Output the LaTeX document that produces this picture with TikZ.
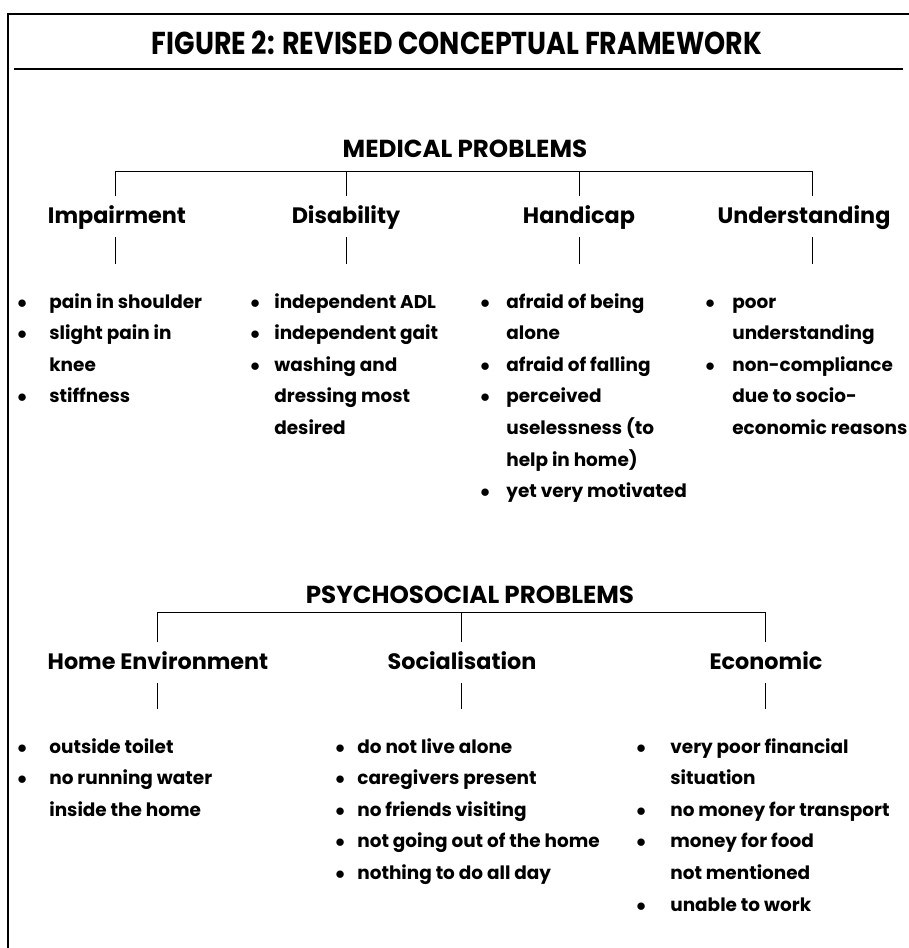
\documentclass[tikz,border=0pt]{standalone}
\usepackage{fontspec}
\setmainfont{Poppins}
\newfontfamily\titlefont{Poppins}[FakeStretch=0.85]
\usetikzlibrary{positioning}
\newcommand{\bulletcol}[2]{\begin{tabular}[t]{@{}p{#1}@{}l@{}}#2\end{tabular}}
\tikzset{
  frameline/.style={line width=1.3pt},
  titlerule/.style={line width=.8pt},
  branch/.style={line width=.55pt},
  tick/.style={line width=.55pt,shorten >=.44cm},
  figtitle/.style={anchor=base,inner sep=0pt,font=\titlefont\bfseries\fontsize{18}{20}\selectfont},
  grouphead/.style={anchor=base,inner sep=0pt,font=\bfseries\fontsize{14}{16}\selectfont},
  category/.style={anchor=base,inner xsep=0pt,inner ysep=5pt,text height=10pt,text depth=3pt,font=\bfseries\fontsize{12.7}{15}\selectfont},
  itemlist/.style={anchor=base west,inner sep=0pt,align=left,font=\bfseries\fontsize{10.5}{18}\selectfont},
}

\begin{document}
\begin{tikzpicture}[x=0.02cm,y=-0.02cm]
			\useasboundingbox (0,0) rectangle (909,948);
			\coordinate (tl) at (8,14);
			\coordinate (bl) at (8,948);
			\coordinate (tr) at (909,14);
			\draw[frameline] (bl)--(tl)--(tr);
			\node[figtitle] (title) at (457,54) {FIGURE 2: REVISED CONCEPTUAL FRAMEWORK};
			\draw[titlerule] (14,69)--(903,69);
			\node[grouphead] (med) at (465,157) {MEDICAL PROBLEMS};
			\coordinate (m1) at (115,171);
			\coordinate (m2) at (346,171);
			\coordinate (m3) at (579,171);
			\coordinate (m4) at (812,171);
			\node[category] (imp) at (117,223) {Impairment};
			\node[category] (dis) at (346,223) {Disability};
			\node[category] (han) at (579,223) {Handicap};
			\node[category] (und) at (804,223) {Understanding};
			\node[itemlist] (implist) at (17,308) {\bulletcol{.64cm}{$\bullet$ & pain in shoulder\\ $\bullet$ & slight pain in\\ & knee\\ $\bullet$ & stiffness}};
			\node[itemlist] (dislist) at (250,308) {\bulletcol{.48cm}{$\bullet$ & independent ADL\\ $\bullet$ & independent gait\\ $\bullet$ & washing and\\ & dressing most\\ & desired}};
			\node[itemlist] (hanlist) at (480,308) {\bulletcol{.52cm}{$\bullet$ & afraid of being\\ & alone\\ $\bullet$ & afraid of falling\\ $\bullet$ & perceived\\ & uselessness (to\\ & help in home)\\ $\bullet$ & yet very motivated}};
			\node[itemlist] (undlist) at (705,308) {\bulletcol{.54cm}{$\bullet$ & poor\\ & understanding\\ $\bullet$ & non-compliance\\ & due to socio-\\ & economic reasons}};
			\draw[branch] (m1 |- imp.north)--(m1)--(m4)--(m4 |- und.north);
			\draw[branch] (m2)--(m2 |- dis.north);
			\draw[branch] (m3)--(m3 |- han.north);
			\draw[tick] (m1 |- imp.south)--(m1 |- implist.north);
			\draw[tick] (m2 |- dis.south)--(m2 |- dislist.north);
			\draw[tick] (m3 |- han.south)--(m3 |- hanlist.north);
			\draw[tick] (m4 |- und.south)--(m4 |- undlist.north);
			\node[grouphead] (psy) at (470,603) {PSYCHOSOCIAL PROBLEMS};
			\coordinate (p1) at (157,612);
			\coordinate (p2) at (461,612);
			\coordinate (p3) at (765,612);
			\node[category] (home) at (158,669) {Home Environment};
			\node[category] (soc) at (462,669) {Socialisation};
			\node[category] (eco) at (766,669) {Economic};
			\node[itemlist] (homelist) at (17,753) {\bulletcol{.64cm}{$\bullet$ & outside toilet\\ $\bullet$ & no running water\\ & inside the home}};
			\node[itemlist] (soclist) at (335,753) {\bulletcol{.44cm}{$\bullet$ & do not live alone\\ $\bullet$ & caregivers present\\ $\bullet$ & no friends visiting\\ $\bullet$ & not going out of the home\\ $\bullet$ & nothing to do all day}};
			\node[itemlist] (ecolist) at (636,753) {\bulletcol{.68cm}{$\bullet$ & very poor financial\\ & situation\\ $\bullet$ & no money for transport\\ $\bullet$ & money for food\\ & not mentioned\\ $\bullet$ & unable to work}};
			\draw[branch] (p1 |- home.north)--(p1)--(p3)--(p3 |- eco.north);
			\draw[branch] (p2)--(p2 |- soc.north);
			\draw[tick] (p1 |- home.south)--(p1 |- homelist.north);
			\draw[tick] (p2 |- soc.south)--(p2 |- soclist.north);
			\draw[tick] (p3 |- eco.south)--(p3 |- ecolist.north);
		\end{tikzpicture}
\end{document}
